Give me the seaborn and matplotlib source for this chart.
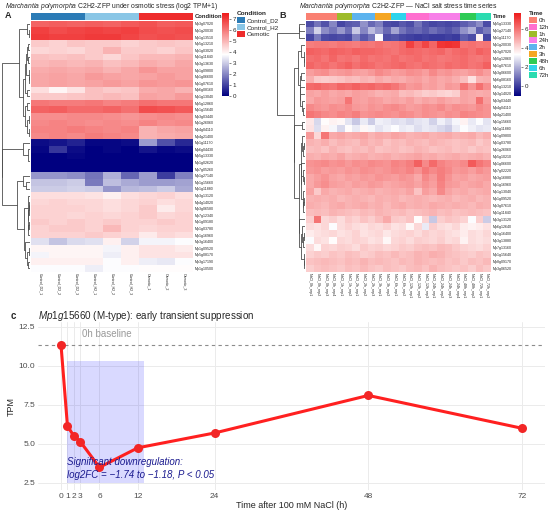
import numpy as np
import pandas as pd
import matplotlib
matplotlib.use('Agg')
import matplotlib.pyplot as plt
import seaborn as sns
from matplotlib.colors import LinearSegmentedColormap, ListedColormap
from matplotlib.patches import Patch

# ---- Panel A data: log2(TPM+1), osmotic stress ----
samples_a = ['Control_D2_1', 'Control_D2_2', 'Control_D2_3',
             'Control_H2_1', 'Control_H2_2', 'Control_H2_3',
             'Osmotic_1', 'Osmotic_2', 'Osmotic_3']
condition_a = ['Control_D2'] * 3 + ['Control_H2'] * 3 + ['Osmotic'] * 3
condition_levels = ['Control_D2', 'Control_H2', 'Osmotic']
condition_colors = ['#2B7BB6', '#8AC6E6', '#EE2C2C']

genes_a = ['Mp3g07020', 'Mp1g20030', 'Mp1g13510', 'Mp5g13210', 'Mp1g03020', 'Mp1g11840',
           'Mp3g13630', 'Mp1g09800', 'Mp1g06600', 'Mp1g07610', 'Mp6g08160', 'Mp1g13040',
           'Mp5g12860', 'Mp1g15640', 'Mp3g03440', 'Mp1g26060', 'Mp4g04110', 'Mp4g21400',
           'Mp1g11170', 'Mp6g04430', 'Mp5g13330', 'Mp1g02620', 'Mp7g05260', 'Mp1g27140',
           'Mp1g15660', 'Mp1g11880', 'Mp3g13120', 'Mp4g14020', 'Mp3g06580', 'Mp7g12340',
           'Mp1g09180', 'Mp1g03780', 'Mp1g16960', 'Mp3g16400', 'Mp1g09520', 'Mp5g08170',
           'Mp3g17190', 'Mp1g10500']

expr_a = [
    [6.3, 6.4, 6.3, 6.4, 6.3, 6.5, 6.6, 6.4, 6.5],
    [6.9, 6.7, 6.8, 6.9, 6.8, 6.9, 6.7, 6.6, 6.7],
    [7.0, 6.9, 6.9, 7.0, 7.0, 6.8, 6.6, 6.7, 6.6],
    [4.6, 4.5, 4.7, 4.6, 4.6, 4.5, 4.6, 4.7, 4.6],
    [4.4, 4.5, 4.4, 4.6, 5.0, 4.6, 4.6, 4.5, 4.7],
    [4.8, 4.7, 4.8, 4.6, 4.4, 4.7, 4.9, 4.9, 5.0],
    [4.9, 5.0, 4.9, 5.0, 4.8, 4.9, 5.1, 5.0, 5.2],
    [5.1, 5.2, 5.1, 5.2, 5.0, 5.2, 5.5, 5.3, 5.3],
    [5.2, 5.3, 5.2, 5.4, 5.3, 5.2, 5.3, 5.4, 5.3],
    [5.2, 5.3, 5.2, 5.3, 5.4, 5.3, 5.5, 5.4, 5.5],
    [4.3, 3.9, 4.2, 4.8, 4.6, 4.7, 5.1, 5.2, 5.0],
    [4.6, 4.6, 4.7, 4.8, 4.9, 4.8, 5.3, 5.2, 5.4],
    [6.0, 5.9, 5.9, 6.0, 5.8, 5.9, 6.1, 6.0, 6.0],
    [6.3, 6.4, 6.2, 6.2, 6.3, 6.1, 6.7, 6.6, 6.5],
    [5.6, 5.6, 5.7, 5.7, 5.6, 5.5, 5.6, 5.7, 5.6],
    [5.7, 5.8, 5.7, 5.6, 5.7, 5.6, 5.8, 5.6, 5.7],
    [5.8, 5.8, 5.9, 5.8, 5.7, 5.8, 5.0, 5.2, 5.3],
    [5.7, 5.8, 5.7, 5.9, 5.8, 5.7, 5.0, 5.1, 5.2],
    [0.2, 0.3, 0.5, 0.1, 0.1, 0.2, 2.3, 1.2, 0.6],
    [0.1, 0.8, 0.2, 0.0, 0.1, 0.0, 0.3, 0.1, 0.2],
    [0.0, 0.0, 0.1, 0.0, 0.0, 0.0, 0.0, 0.0, 0.0],
    [0.0, 0.0, 0.0, 0.0, 0.0, 0.0, 0.0, 0.0, 0.0],
    [0.0, 0.0, 0.0, 0.0, 0.0, 0.0, 0.0, 0.0, 0.0],
    [2.2, 2.2, 2.1, 1.7, 2.6, 1.5, 2.3, 0.9, 1.9],
    [2.9, 2.9, 3.0, 1.8, 2.8, 2.5, 2.3, 2.3, 2.4],
    [3.0, 3.0, 3.1, 3.0, 2.2, 2.7, 2.8, 3.0, 2.5],
    [4.3, 4.3, 4.3, 4.2, 4.0, 4.3, 4.4, 4.5, 4.3],
    [4.4, 4.5, 4.4, 4.4, 4.3, 4.4, 4.5, 4.3, 4.4],
    [4.5, 4.5, 4.5, 4.4, 4.3, 4.4, 4.6, 4.1, 4.4],
    [4.5, 4.5, 4.4, 4.5, 4.4, 4.5, 4.6, 4.4, 4.5],
    [4.6, 4.5, 4.6, 4.5, 4.6, 4.5, 4.5, 4.6, 4.5],
    [4.5, 4.6, 4.6, 4.5, 4.9, 4.5, 4.4, 4.5, 4.5],
    [4.5, 4.5, 4.5, 4.6, 4.5, 4.4, 4.1, 4.4, 4.3],
    [3.3, 2.9, 3.2, 3.3, 4.0, 3.1, 3.6, 3.6, 3.7],
    [3.9, 3.9, 3.9, 3.9, 3.6, 4.0, 4.2, 4.2, 4.1],
    [3.6, 3.9, 3.9, 3.9, 3.5, 4.0, 4.2, 4.2, 4.2],
    [4.0, 4.0, 4.0, 4.0, 3.7, 4.0, 3.5, 3.4, 3.7],
    [3.7, 3.7, 3.7, 3.5, 3.7, 3.7, 3.8, 3.8, 3.8],
]

# ---- Panel B data: NaCl time series ----
time_order = ['0h', '1h', '2h', '3h', '6h', '12h', '24h', '48h', '72h']
time_reps = [4, 2, 3, 2, 2, 3, 4, 2, 2]
legend_times = ['0h', '12h', '1h', '24h', '2h', '3h', '48h', '6h', '72h']
time_colors = {'0h': '#FA8072', '12h': '#FF6FCF', '1h': '#9DBB2A', '24h': '#F77FE8',
               '2h': '#5CB3EE', '3h': '#F5A623', '48h': '#2DCB55', '6h': '#2ED4EC',
               '72h': '#2BDBB0'}
time_b = [t for t, r in zip(time_order, time_reps) for _ in range(r)]
samples_b = [f'NaCl_{t}_rep{k + 1}' for t, r in zip(time_order, time_reps) for k in range(r)]

genes_b = ['Mp5g13330', 'Mp1g27140', 'Mp1g11170', 'Mp1g20030', 'Mp3g07020', 'Mp5g12860',
           'Mp1g07610', 'Mp3g06600', 'Mp6g08160', 'Mp5g13210', 'Mp3g14020', 'Mp3g03440',
           'Mp4g04110', 'Mp4g21400', 'Mp1g15660', 'Mp1g11880', 'Mp1g09800', 'Mp1g03780',
           'Mp1g26060', 'Mp5g10210', 'Mp1g06600', 'Mp7g02220', 'Mp3g16880', 'Mp1g16960',
           'Mp1g13040', 'Mp1g09520', 'Mp3g07610', 'Mp1g11840', 'Mp3g13120', 'Mp6g12640',
           'Mp1g16400', 'Mp3g13880', 'Mp7g13160', 'Mp1g15640', 'Mp8g09170', 'Mp3g06520']

expr_b = [
    [0.3, 1.0, 0.4, 1.3, 0.2, 0.5, 0.6, 1.5, 0.8, 1.2, 0.3, 0.2, 0.5, 0.3, 1.0, 0.4, 0.2, 0.3, 0.2, 0.3, 0.6, 0.9, 1.4, 0.3],
    [1.2, 2.6, 1.4, 1.0, 1.6, 0.9, 2.4, 1.3, 2.2, 1.6, 0.8, 1.8, 1.0, 0.6, 0.8, 0.5, 0.9, 0.6, 0.4, 0.7, 1.5, 2.0, 0.6, 1.1],
    [0.2, 1.1, 0.3, 0.2, 0.3, 0.2, 1.2, 0.5, 1.0, 3.3, 0.3, 0.4, 0.2, 0.1, 0.0, 0.1, 0.0, 0.0, 0.1, 0.0, 0.6, 0.3, 3.6, 0.2],
    [5.8, 5.9, 5.9, 5.8, 6.0, 5.9, 5.8, 6.0, 5.9, 6.1, 5.9, 6.0, 6.2, 7.0, 6.4, 6.9, 6.3, 7.2, 7.3, 7.2, 6.0, 6.1, 5.9, 6.0],
    [6.4, 6.3, 6.2, 6.4, 6.3, 6.2, 6.4, 6.3, 6.3, 6.2, 6.1, 6.0, 6.2, 6.3, 6.2, 6.1, 6.2, 6.3, 6.0, 6.2, 6.3, 6.1, 6.4, 6.2],
    [6.1, 6.2, 6.0, 6.3, 6.0, 6.1, 5.9, 6.2, 6.0, 6.1, 6.0, 6.2, 6.0, 6.1, 6.2, 6.0, 6.1, 5.9, 6.0, 6.1, 6.2, 6.0, 5.9, 6.1],
    [6.3, 6.1, 6.2, 6.0, 6.2, 6.4, 6.1, 6.3, 6.2, 6.0, 6.1, 6.2, 6.3, 6.1, 6.0, 6.2, 6.1, 6.0, 6.2, 6.1, 6.2, 6.0, 6.1, 6.4],
    [5.2, 5.4, 5.5, 5.2, 5.3, 5.4, 5.2, 5.1, 5.3, 5.6, 5.4, 5.2, 5.3, 5.5, 5.4, 5.2, 5.6, 5.3, 5.4, 5.2, 5.1, 5.3, 5.5, 5.2],
    [4.9, 4.4, 4.3, 4.4, 4.5, 4.7, 4.6, 4.8, 4.7, 5.0, 4.8, 5.0, 4.9, 5.1, 5.2, 5.0, 5.2, 5.0, 5.1, 4.9, 4.6, 3.9, 4.8, 4.9],
    [6.2, 6.3, 6.1, 6.0, 6.3, 6.2, 6.4, 6.2, 6.3, 6.1, 6.2, 6.0, 5.6, 5.3, 5.4, 5.1, 5.2, 5.0, 5.3, 5.2, 6.0, 5.4, 6.1, 5.5],
    [5.1, 5.0, 5.2, 5.0, 5.1, 5.0, 5.2, 5.1, 5.0, 4.8, 4.9, 5.0, 4.6, 4.7, 4.5, 4.3, 4.4, 4.2, 4.1, 4.3, 5.1, 5.0, 4.9, 5.0],
    [5.0, 5.3, 5.2, 5.1, 5.2, 6.0, 5.2, 5.1, 5.3, 5.2, 5.0, 5.1, 5.0, 5.2, 4.9, 5.1, 5.0, 5.2, 5.0, 4.9, 5.1, 5.0, 6.1, 5.2],
    [5.6, 5.4, 5.3, 5.5, 5.4, 5.6, 5.3, 5.2, 5.4, 5.3, 5.5, 5.6, 5.4, 5.2, 5.3, 5.5, 5.4, 5.6, 5.3, 5.5, 5.4, 5.3, 5.6, 5.4],
    [6.0, 5.8, 5.6, 5.5, 5.7, 5.6, 5.8, 5.4, 5.5, 5.6, 5.5, 5.4, 5.6, 5.5, 5.3, 5.5, 5.4, 5.3, 5.5, 5.4, 5.7, 5.6, 5.5, 5.4],
    [3.8, 2.7, 3.4, 3.6, 3.5, 2.9, 2.4, 3.0, 2.5, 3.1, 3.0, 2.8, 2.9, 2.7, 2.9, 3.0, 2.6, 3.1, 2.8, 3.2, 3.6, 3.0, 3.3, 2.9],
    [3.9, 2.8, 3.6, 3.2, 2.7, 3.4, 3.0, 3.5, 3.2, 2.9, 3.1, 3.3, 3.0, 3.1, 2.8, 3.0, 2.9, 2.7, 2.5, 3.0, 3.3, 3.1, 2.9, 3.0],
    [5.3, 4.1, 6.0, 5.0, 5.1, 4.9, 5.0, 5.1, 4.8, 5.0, 4.9, 5.1, 5.0, 4.8, 4.9, 5.0, 4.8, 4.9, 5.0, 4.8, 4.9, 5.0, 4.7, 4.9],
    [4.8, 4.7, 4.9, 4.6, 4.8, 4.7, 4.6, 4.9, 4.7, 4.8, 4.5, 4.7, 4.6, 4.8, 4.7, 4.6, 4.8, 4.7, 4.6, 4.5, 4.6, 4.7, 4.4, 4.6],
    [4.6, 4.7, 4.5, 4.8, 4.6, 4.5, 4.7, 4.6, 4.8, 4.5, 4.6, 4.7, 4.5, 4.6, 4.8, 4.7, 4.5, 4.6, 4.7, 4.5, 4.6, 4.4, 4.6, 4.5],
    [4.9, 4.8, 5.0, 4.9, 5.1, 4.8, 4.9, 5.0, 4.8, 4.9, 5.0, 4.8, 4.9, 5.0, 5.1, 4.9, 5.0, 4.8, 4.9, 5.0, 4.8, 4.9, 5.0, 4.8],
    [5.4, 5.5, 5.6, 5.4, 5.5, 5.3, 5.5, 5.4, 5.6, 5.5, 5.4, 5.7, 5.6, 5.8, 6.4, 5.6, 6.2, 5.7, 5.5, 5.4, 5.6, 6.5, 6.0, 5.7],
    [5.3, 5.4, 5.2, 5.3, 5.2, 5.4, 5.3, 5.5, 5.4, 5.3, 5.4, 5.6, 5.5, 5.7, 5.4, 5.9, 5.6, 5.8, 5.6, 5.3, 5.4, 5.2, 5.5, 5.3],
    [5.0, 5.2, 5.4, 5.1, 5.0, 5.2, 5.1, 5.3, 5.2, 5.4, 5.3, 5.2, 5.4, 5.3, 5.0, 5.6, 5.3, 5.8, 5.4, 5.1, 5.2, 5.0, 5.1, 5.2],
    [5.0, 5.3, 5.5, 5.2, 5.1, 5.0, 5.2, 5.1, 5.3, 5.2, 5.0, 5.1, 5.2, 5.3, 5.1, 5.4, 5.2, 5.7, 5.3, 5.2, 5.0, 5.1, 5.2, 5.0],
    [5.1, 4.4, 5.0, 4.8, 4.9, 5.0, 4.8, 4.9, 5.0, 4.8, 4.9, 5.0, 4.9, 5.1, 4.5, 5.2, 5.0, 5.6, 5.1, 4.9, 5.0, 4.8, 4.9, 5.0],
    [4.8, 4.9, 4.8, 4.9, 4.7, 4.8, 4.9, 4.8, 4.7, 4.9, 4.8, 4.9, 4.7, 4.8, 4.9, 4.8, 4.7, 4.8, 4.9, 4.7, 4.8, 4.9, 4.7, 4.8],
    [4.9, 4.8, 4.7, 4.9, 5.0, 4.8, 4.9, 5.0, 4.8, 4.9, 4.7, 4.9, 5.0, 4.8, 4.9, 4.8, 5.0, 4.9, 4.8, 4.9, 4.8, 4.7, 4.9, 4.8],
    [4.6, 4.7, 4.6, 4.8, 4.7, 4.6, 4.5, 4.7, 4.6, 4.8, 4.7, 4.6, 4.7, 4.5, 4.6, 4.7, 4.8, 4.6, 4.7, 4.5, 4.6, 4.7, 4.6, 4.5],
    [4.3, 6.0, 4.1, 4.3, 4.0, 4.4, 4.2, 4.5, 4.3, 4.6, 5.0, 4.4, 4.3, 4.5, 3.4, 4.2, 2.4, 4.3, 4.5, 4.4, 4.2, 3.3, 4.3, 2.5],
    [4.0, 3.9, 4.1, 3.3, 4.0, 4.2, 4.0, 3.9, 4.1, 4.0, 4.2, 3.9, 4.0, 3.5, 4.1, 3.0, 4.3, 4.0, 3.9, 4.1, 3.7, 3.6, 3.7, 3.9],
    [3.7, 3.9, 4.0, 4.1, 3.9, 4.0, 4.2, 3.9, 4.0, 4.1, 3.8, 4.0, 4.1, 4.2, 4.0, 4.3, 4.1, 4.2, 4.0, 3.9, 3.7, 4.0, 3.9, 4.1],
    [3.3, 4.0, 3.9, 3.4, 4.1, 4.0, 4.2, 4.1, 3.9, 4.0, 3.5, 4.1, 4.2, 4.0, 4.3, 4.2, 4.1, 4.3, 4.0, 4.1, 3.6, 4.0, 3.9, 4.0],
    [4.0, 3.5, 4.2, 4.1, 4.3, 4.2, 4.0, 4.4, 4.2, 4.3, 4.1, 4.2, 4.4, 4.3, 4.5, 4.6, 4.5, 4.7, 4.6, 4.4, 4.2, 4.1, 4.0, 4.2],
    [4.2, 4.4, 4.3, 4.5, 4.4, 4.6, 4.5, 4.3, 4.4, 4.6, 4.5, 4.7, 4.5, 4.6, 4.8, 4.7, 4.9, 4.8, 4.6, 4.5, 4.4, 4.3, 4.5, 4.4],
    [4.5, 4.6, 4.7, 4.6, 4.5, 4.7, 4.6, 4.8, 4.6, 4.7, 4.6, 4.5, 4.7, 4.6, 4.8, 4.7, 4.6, 4.7, 4.5, 4.6, 4.4, 4.6, 4.5, 4.7],
    [4.3, 4.5, 4.6, 4.5, 4.4, 4.6, 4.5, 4.7, 4.5, 4.4, 4.6, 4.5, 4.4, 4.6, 4.7, 4.5, 4.8, 4.6, 4.5, 4.4, 4.5, 4.3, 4.6, 4.4],
]

# ---- Panel C data: Mp1g15660 TPM ----
hours = [0, 1, 2, 3, 6, 12, 24, 48, 72]
tpm = [11.3, 6.15, 5.5, 5.15, 3.5, 4.75, 5.7, 8.1, 6.0]
signif_window = (0.9, 13.0)     # hours highlighted as significant
signif_band = (2.5, 10.3)       # TPM extent of the highlight
note_text = 'Significant downregulation:\nlog2FC = \u22121.74 to \u22121.18, P < 0.05'

title_a = r'$\it{Marchantia\ polymorpha}$' + ' C2H2-ZFP under osmotic stress (log2 TPM+1)'
title_b = r'$\it{Marchantia\ polymorpha}$' + ' C2H2-ZFP \u2014 NaCl salt stress time series'
title_c = r'$\it{Mp1g15660}$' + ' (M-type): early transient suppression'

# ---- style ----
sns.set_style('white')
plt.rcParams['font.family'] = ['Liberation Sans', 'DejaVu Sans']
plt.rcParams['mathtext.fontset'] = 'custom'
plt.rcParams['mathtext.rm'] = 'Liberation Sans'
plt.rcParams['mathtext.it'] = 'Liberation Sans:italic'

W, H = 550, 518


def px_box(x0, y0, x1, y1):
    return [x0 / W, 1 - y1 / H, (x1 - x0) / W, (y1 - y0) / H]


def row_dendrogram(ax, mat):
    # average linkage, merging neighbouring rows only so leaves keep the heatmap order
    mat = np.asarray(mat, float)
    n = len(mat)
    dist = np.sqrt(((mat[:, None, :] - mat[None, :, :]) ** 2).sum(-1))
    clusters = [([i], i + 0.5, 0.0) for i in range(n)]
    top = 1.0
    while len(clusters) > 1:
        scores = [dist[np.ix_(a[0], b[0])].mean() for a, b in zip(clusters[:-1], clusters[1:])]
        j = int(np.argmin(scores))
        (ma, pa, ha), (mb, pb, hb) = clusters[j], clusters[j + 1]
        h = max(scores[j], ha, hb) + 0.05
        ax.plot([ha, h, h, hb], [pa, pa, pb, pb], color='#4d4d4d', lw=0.6)
        clusters[j:j + 2] = [(ma + mb, (pa + pb) / 2, h)]
        top = h
    ax.set_xlim(top * 1.01, 0)
    ax.set_ylim(n, 0)
    ax.axis('off')


heat_cmap = LinearSegmentedColormap.from_list('nwr', ['#000080', '#ffffff', '#EE1C1C'])


def heat_panel(x0, x1, data, genes, samples, groups, levels, colors, vmin, vmax, ticks,
               cbar_x, label, title, legend_title, legend_levels, leg_size):
    y0, y1 = 20.5, 271.5
    ax = fig.add_axes(px_box(x0, y0, x1, y1))
    cax = fig.add_axes(px_box(cbar_x, 13, cbar_x + 7, 96))
    df = pd.DataFrame(data, index=genes, columns=samples)
    sns.heatmap(df, ax=ax, cmap=heat_cmap, vmin=vmin, vmax=vmax, cbar_ax=cax,
                xticklabels=True, yticklabels=True)
    ax.yaxis.tick_right()
    ax.tick_params(axis='both', length=0, labelsize=2.6, pad=1)
    ax.tick_params(axis='y', labelrotation=0)
    ax.tick_params(axis='x', labelrotation=270)
    cbar = ax.collections[0].colorbar
    cbar.set_ticks(ticks)
    cbar.outline.set_visible(False)
    cax.tick_params(labelsize=4.5, length=1.5, width=0.4, pad=1)

    # annotation bar
    bar = fig.add_axes(px_box(x0, 13, x1, 19.5))
    codes = [[levels.index(g) for g in groups]]
    sns.heatmap(np.array(codes), ax=bar, cmap=ListedColormap(colors), vmin=-0.5,
                vmax=len(levels) - 0.5, cbar=False, xticklabels=False, yticklabels=False)
    bar.text(1.01, 0.5, legend_title, transform=bar.transAxes, fontsize=4.2,
             fontweight='bold', va='center', ha='left')

    dax = fig.add_axes(px_box(x0 - 29, y0, x0 - 1, y1))
    row_dendrogram(dax, data)

    fig.text((x0 + x1) / 2 / W, 1 - 6 / H, title, fontsize=4.9, ha='center', va='center')
    fig.text((x0 - 23) / W, 1 - 16 / H, label, fontsize=6.5, fontweight='bold',
             ha='center', va='center')

    handles = [Patch(facecolor=colors[levels.index(l)], edgecolor='none', label=l)
               for l in legend_levels]
    fig.legend(handles=handles, title=legend_title, loc='upper left',
               bbox_to_anchor=((cbar_x + 15) / W, 1 - 11 / H), frameon=False,
               fontsize=leg_size, title_fontproperties={'weight': 'bold', 'size': leg_size},
               handlelength=1.2, handleheight=1.1, handletextpad=0.35,
               labelspacing=0.12, borderaxespad=0, borderpad=0, alignment='left')


fig = plt.figure(figsize=(5.5, 5.18), dpi=100)

heat_panel(31, 193, expr_a, genes_a, samples_a, condition_a, condition_levels,
           condition_colors, 0, 7.5, range(8), 222, 'A', title_a,
           'Condition', condition_levels, 4.6)

heat_panel(306, 491, expr_b, genes_b, samples_b, time_b, time_order,
           [time_colors[t] for t in time_order], -1.0, 7.7, [0, 2, 4, 6], 514, 'B',
           title_b, 'Time', legend_times, 4.5)

# ---- Panel C ----
axC = fig.add_axes(px_box(38, 322, 545, 490))
axC.fill_between(signif_window, signif_band[0], signif_band[1], color='#0000FF',
                 alpha=0.15, lw=0, zorder=1)
axC.axhline(tpm[0], ls=(0, (3, 3)), color='#8c8c8c', lw=0.8, zorder=1)
sns.lineplot(x=hours, y=tpm, ax=axC, color='#FF2020', lw=2.2, marker='o',
             markersize=6.5, markeredgewidth=0, markerfacecolor='#F22626', zorder=3)
axC.text(7.2, 12.05, '0h baseline', color='#9a9a9a', fontsize=7, ha='center', va='center')
axC.text(signif_window[0] + 0.1, 3.45, note_text, color='#1B1B8F', style='italic',
         fontsize=7, ha='left', va='center', linespacing=1.35, zorder=4)

axC.set_xlim(-3.6, 75.6)
axC.set_ylim(2.05, 12.8)
axC.set_xticks(hours)
axC.set_yticks([2.5, 5.0, 7.5, 10.0, 12.5])
axC.grid(True, color='#EBEBEB', lw=0.7)
axC.set_axisbelow(True)
for s in axC.spines.values():
    s.set_visible(False)
axC.tick_params(length=0, labelsize=6, colors='#4D4D4D', pad=2)
axC.set_xlabel('Time after 100 mM NaCl (h)', fontsize=6.5, labelpad=1)
axC.set_ylabel('TPM', fontsize=6.5, labelpad=2)

fig.text(38 / W, 1 - 316 / H, title_c, fontsize=7.1, ha='left', va='center')
fig.text(13 / W, 1 - 316 / H, 'c', fontsize=7, fontweight='bold', ha='center', va='center')

fig.savefig('out.png', dpi=100)
